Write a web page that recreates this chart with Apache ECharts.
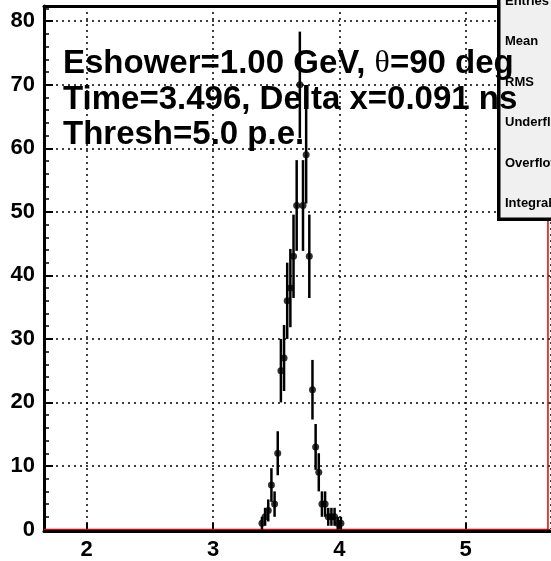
<!DOCTYPE html>
<html>
<head>
<meta charset="utf-8">
<script src="https://cdn.jsdelivr.net/npm/echarts@6/dist/echarts.min.js"></script>
<style>
html, body { margin: 0; padding: 0; background: #fff; }
#main { width: 551px; height: 561px; }
</style>
</head>
<body>
<div id="main"></div>
<script>
// bin centres (ns) and counts
var binCenters = [3.3875, 3.4125, 3.4375, 3.4625, 3.4875, 3.5125, 3.5375, 3.5625, 3.5875,
    3.6125, 3.6375, 3.6625, 3.6875, 3.7125, 3.7375, 3.7625, 3.7875, 3.8125, 3.8375,
    3.8625, 3.8875, 3.9125, 3.9375, 3.9625, 3.9875, 4.0125];
var counts = [1, 2, 3, 7, 4, 12, 25, 27, 36, 38, 43, 51, 70, 51, 59, 43, 22, 13, 9,
    4, 4, 2, 2, 2, 1, 1];

// red histogram outline
var outlineX = [1.662, 5.652, 5.652];
var outlineY = [0, 0, 60];

var xMin = 1.662, xMax = 5.676;
var yMax = 82.4;

var infoLines = ['Time=3.496, Delta x=0.091 ns', 'Thresh=5.0 p.e.'];
var statLabels = ['Entries', 'Mean', 'RMS', 'Underflow', 'Overflow', 'Integral'];

var myChart = echarts.init(document.getElementById('main'));

var points = binCenters.map(function (x, i) { return [x, counts[i]]; });
var errBars = binCenters.map(function (x, i) {
    var e = Math.sqrt(counts[i]);
    return [x, counts[i] - e, counts[i] + e];
});
var outline = outlineX.map(function (x, i) { return [x, outlineY[i]]; });

var font = '"Liberation Sans", Arial, sans-serif';

var graphics = [
    { type: 'rect', z: 100, shape: { x: 497, y: -10, width: 70, height: 231 }, style: { fill: '#000' } },
    { type: 'rect', z: 101, shape: { x: 500, y: -10, width: 70, height: 228 }, style: { fill: '#f0f0f0', stroke: '#000', lineWidth: 1 } }
];
statLabels.forEach(function (s, i) {
    graphics.push({
        type: 'text', z: 102, x: 505, y: 1 + 40.5 * i,
        style: { text: s, font: 'bold 13px ' + font, fill: '#000', verticalAlign: 'middle' }
    });
});
graphics.push({
    type: 'text', z: 110, x: 63, y: 64,
    style: {
        text: '{a|Eshower=1.00 GeV, }{t|θ}{a|=90 deg}',
        verticalAlign: 'middle',
        rich: {
            a: { fontFamily: font, fontWeight: 'bold', fontSize: 33, fill: '#000' },
            t: { fontFamily: '"Liberation Serif", serif', fontSize: 32, fill: '#000' }
        }
    }
});
infoLines.forEach(function (s, i) {
    graphics.push({
        type: 'text', z: 110, x: 63, y: 100 + 35 * i,
        style: { text: s, font: 'bold 33px ' + font, fill: '#000', verticalAlign: 'middle' }
    });
});

var dotted = { color: '#000', width: 1.5, type: [2, 4] };

var option = {
    backgroundColor: '#fff',
    animation: false,
    grid: { left: 44, right: 0, top: 6, bottom: 31, containLabel: false },
    xAxis: [{
        type: 'value',
        min: xMin,
        max: xMax,
        offset: 1.5,
        axisLine: { show: true, onZero: false, lineStyle: { color: '#000', width: 3 } },
        axisTick: { inside: true, length: 8, lineStyle: { color: '#000', width: 2 } },
        axisLabel: {
            showMinLabel: false, showMaxLabel: false,
            margin: 8, color: '#000', fontFamily: font, fontWeight: 'bold', fontSize: 22,
            formatter: function (v) {
                return Math.abs(v - Math.round(v)) < 1e-6 ? String(Math.round(v)) : '';
            }
        },
        splitLine: { show: true, lineStyle: dotted }
    }, {
        type: 'value',
        position: 'top',
        min: xMin,
        max: xMax,
        axisLine: { show: true, onZero: false, lineStyle: { color: '#000', width: 3 } },
        axisTick: { show: false },
        axisLabel: { show: false },
        splitLine: { show: false }
    }],
    yAxis: {
        type: 'value',
        min: 0,
        max: yMax,
        interval: 10,
        axisLine: { show: true, lineStyle: { color: '#000', width: 3 } },
        axisTick: { inside: true, length: 9, lineStyle: { color: '#000', width: 2 } },
        minorTick: { show: true, splitNumber: 5, length: 5, lineStyle: { color: '#000', width: 1.5 } },
        axisLabel: {
            margin: 9, color: '#000', fontFamily: font, fontWeight: 'bold', fontSize: 22,
            formatter: function (v) { return v % 10 === 0 ? String(v) : ''; }
        },
        splitLine: { show: true, lineStyle: dotted }
    },
    graphic: graphics,
    series: [
        {
            type: 'line',
            data: outline,
            symbol: 'none',
            z: 5,
            lineStyle: { color: '#e00000', width: 1.5 }
        },
        {
            type: 'custom',
            data: errBars,
            z: 6,
            renderItem: function (params, api) {
                var lo = api.coord([api.value(0), api.value(1)]);
                var hi = api.coord([api.value(0), api.value(2)]);
                return {
                    type: 'line',
                    shape: { x1: lo[0], y1: lo[1], x2: hi[0], y2: hi[1] },
                    style: { stroke: '#000', lineWidth: 2.5 }
                };
            }
        },
        {
            type: 'scatter',
            data: points,
            symbol: 'circle',
            symbolSize: 7,
            z: 7,
            itemStyle: { color: '#000' }
        }
    ]
};

myChart.setOption(option);
</script>
</body>
</html>
